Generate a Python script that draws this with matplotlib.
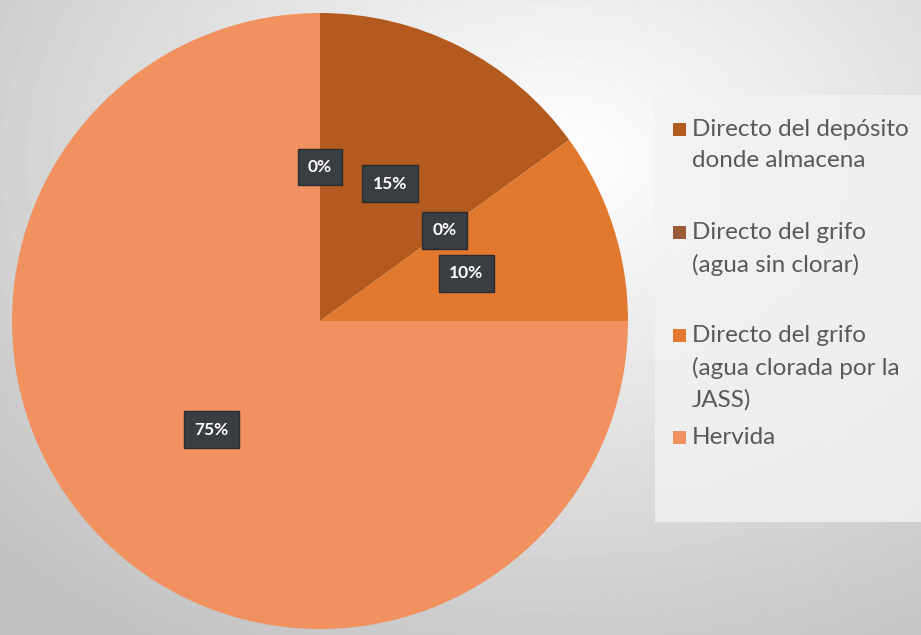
import numpy as np
import matplotlib.pyplot as plt
from matplotlib.patches import Rectangle

# data
categories = ['', 'Directo del depósito\ndonde almacena', 'Directo del grifo\n(agua sin clorar)',
              'Directo del grifo\n(agua clorada por la\nJASS)', 'Hervida']
values = [0, 15, 0, 10, 75]
colors = ['#7a3c14', '#b35a1f', '#9c5b37', '#e2782e', '#f0915f']

fig = plt.figure(figsize=(9.21, 6.35), dpi=100)

# grey gradient background
bg = fig.add_axes([0, 0, 1, 1])
yy, xx = np.mgrid[0:635, 0:921]
d = np.sqrt(((xx - 560) / 700.0) ** 2 + ((yy - 160) / 520.0) ** 2)
shade = np.clip(1.0 - 0.22 * d, 0.76, 1.0)
bg.imshow(shade, cmap='gray', vmin=0, vmax=1, aspect='auto', extent=[0, 921, 635, 0])
bg.add_patch(Rectangle((655, 95), 266, 427, facecolor='#f2f2f2', edgecolor='none', alpha=0.8))
bg.set_xlim(0, 921)
bg.set_ylim(635, 0)
bg.axis('off')

ax = fig.add_axes([12 / 921, 5 / 635, 616 / 921, 618 / 635])
wedges, texts = ax.pie(values, colors=colors, startangle=90, counterclock=False,
                       labels=[f'{v}%' for v in values], labeldistance=0.5,
                       wedgeprops=dict(linewidth=0))
for t in texts:
    t.set_color('white')
    t.set_fontsize(12.5)
    t.set_fontweight('bold')
    t.set_family('Lato')
    t.set_ha('center')
    t.set_va('center')
    t.set_bbox(dict(boxstyle='square,pad=0.6', facecolor='#3a3d42', edgecolor='#2a2c30', linewidth=1))
ax.set_xlim(-1, 1)
ax.set_ylim(-1, 1)

# legend drawn by hand (Excel-style spacing)
entry_y = [130, 233, 336, 438]
for name, col, y in zip(categories[1:], colors[1:], entry_y):
    bg.add_patch(Rectangle((673, y - 7), 13, 13, facecolor=col, edgecolor='none'))
    bg.text(692, y - 11, name, fontsize=17.5, color='#595959', family='Lato',
            va='top', ha='left', linespacing=1.6)

fig.savefig('out.png', dpi=100)
